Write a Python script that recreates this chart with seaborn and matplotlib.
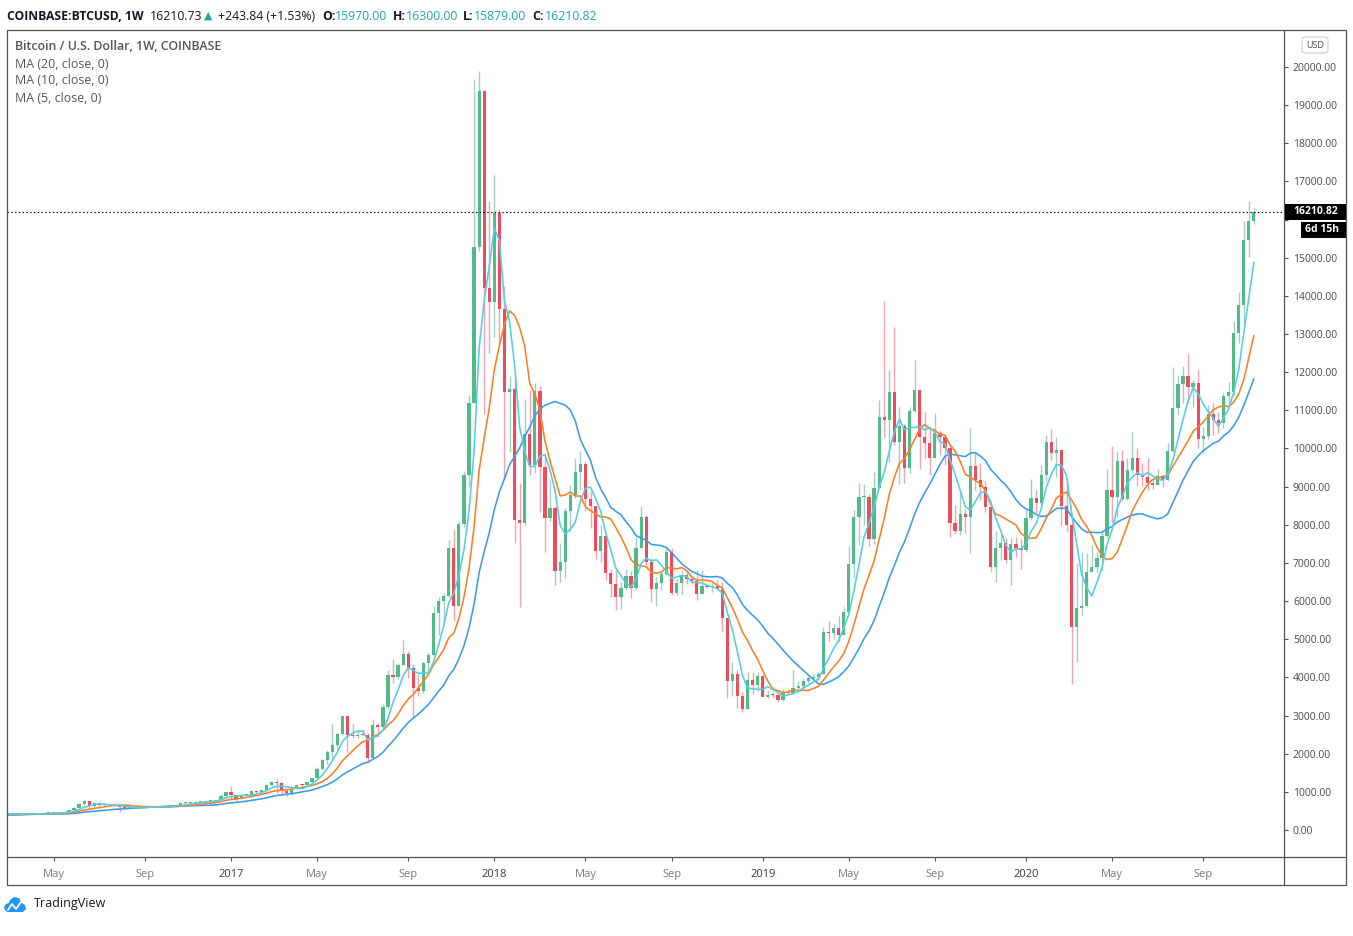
import numpy as np
import pandas as pd
import matplotlib
matplotlib.use("Agg")
import matplotlib.pyplot as plt
import seaborn as sns
from matplotlib.patches import Rectangle, FancyBboxPatch, Polygon
from matplotlib.lines import Line2D

# ---------------- data (weekly COINBASE BTCUSD, weeks starting Monday) ----------------
start_date = "2016-02-29"
first_open = 437
# closes of the 19 weeks before the first visible bar (needed for the moving averages)
warmup_closes = [283, 325, 380, 330, 325, 360, 390, 435, 455, 420, 430, 450, 380, 400, 375, 375, 400, 435, 435]

close_2016 = [412, 412, 410, 416, 417, 420, 428, 455, 448, 458, 455, 442, 527, 575, 680, 765, 625, 700, 650, 665,
              655, 625, 590, 570, 580, 575, 608, 608, 610, 605, 612, 617, 640, 655, 700, 705, 705, 730, 735, 765,
              770, 790, 890, 1000]
high_2016 = [440, 420, 418, 420, 422, 425, 432, 462, 468, 465, 462, 456, 530, 590, 700, 790, 770, 710, 700, 680,
             675, 660, 630, 600, 585, 585, 612, 625, 612, 612, 615, 620, 645, 660, 710, 745, 720, 755, 750, 775,
             780, 795, 935, 1000]
low_2016 = [405, 405, 405, 408, 410, 415, 418, 426, 440, 440, 448, 436, 440, 520, 570, 660, 550, 610, 610, 640,
            650, 620, 480, 565, 565, 570, 568, 600, 600, 590, 600, 605, 613, 630, 650, 690, 700, 700, 720, 730,
            755, 765, 790, 880]

close_2017 = [905, 822, 920, 915, 1015, 1000, 1050, 1175, 1270, 1230, 1010, 970, 1080, 1180, 1170, 1250, 1350,
              1590, 1830, 2050, 2220, 2520, 2980, 2500, 2470, 2500, 2490, 1900, 2750, 2710, 3215, 4060, 4020, 4330,
              4610, 4240, 3710, 3650, 4370, 4590, 5680, 6000, 6130, 7390, 5860, 8020, 9300, 11200, 15280, 19370,
              14210, 13840]
high_2017 = [1150, 910, 925, 930, 1030, 1060, 1060, 1200, 1290, 1330, 1250, 1060, 1100, 1200, 1215, 1260, 1370,
             1640, 1850, 2100, 2790, 2560, 2990, 3000, 2770, 2600, 2650, 2550, 2900, 2800, 3300, 4200, 4480, 4380,
             4980, 4700, 4350, 4100, 4400, 4630, 5860, 6100, 6200, 7600, 7880, 8100, 9400, 11400, 19690, 19895,
             19400, 16490]
low_2017 = [810, 750, 820, 880, 905, 930, 990, 1045, 1165, 980, 940, 890, 930, 1070, 1120, 1170, 1245, 1340,
            1580, 1720, 1850, 2100, 2500, 2050, 2400, 2400, 2480, 1760, 1880, 2450, 2660, 3180, 3850, 3950, 4320,
            3990, 2950, 3500, 3600, 4150, 4580, 5100, 5400, 6100, 5490, 5860, 7950, 9000, 11200, 15180, 10900,
            12500]

close_2018 = [16170, 13660, 11480, 11550, 8130, 8040, 10380, 9570, 11500, 9520, 8180, 8440, 6790, 7025, 8360,
              8780, 9380, 9590, 8680, 8490, 7310, 7710, 6740, 6450, 6110, 6345, 6660, 6345, 7390, 8205, 7025, 6320,
              6475, 6710, 7290, 6210, 6475, 6680, 6580, 6530, 6185, 6395, 6370, 6390, 6320, 5560, 3910, 4090, 3510,
              3170, 3930, 3800, 4040]
high_2018 = [17170, 16280, 14260, 11900, 11900, 9100, 11300, 11530, 11720, 11640, 9880, 9170, 8500, 7520, 8430,
             9040, 9750, 9930, 9680, 8890, 8500, 7990, 7750, 6850, 6815, 6500, 6840, 6800, 7680, 8490, 8250, 7130,
             6630, 6800, 7365, 7390, 6580, 6800, 6800, 6650, 6815, 6815, 6450, 6500, 6560, 6500, 5560, 4400, 4200,
             3620, 4140, 4140, 4140]
low_2018 = [12920, 12750, 9200, 9910, 7520, 5845, 8000, 9300, 9350, 8340, 7290, 8100, 6420, 6500, 6600, 7850,
            8700, 8900, 8350, 7920, 7100, 7025, 6550, 6110, 5770, 5800, 6290, 6080, 6300, 7380, 6950, 5975, 5870,
            6300, 6690, 6150, 6160, 6180, 6450, 6450, 6030, 6180, 6340, 6250, 6300, 5190, 3460, 3500, 3200, 3090,
            3170, 3560, 3640]

close_2019 = [3490, 3540, 3530, 3410, 3620, 3600, 3720, 3780, 3900, 3980, 4010, 4100, 5190, 5160, 5300, 5110,
              5710, 6970, 8205, 8730, 8730, 7630, 8960, 10830, 10750, 11480, 10170, 10590, 9490, 10980, 11530,
              10300, 10140, 9750, 10410, 10300, 10010, 8050, 7840, 8280, 8205, 9540, 9175, 8990, 8470, 6890, 7390,
              7520, 7080, 7500, 7390, 7340]
high_2019 = [4100, 3680, 3620, 3580, 3700, 3700, 4200, 3900, 3950, 4030, 4090, 4150, 5330, 5480, 5400, 5610,
             5850, 7450, 8390, 9100, 9080, 8800, 9380, 11270, 13870, 12060, 13190, 11090, 10650, 11100, 12320,
             11530, 10960, 10600, 10930, 10450, 10350, 10100, 8520, 8830, 8410, 10540, 9880, 9620, 9150, 8500, 7850,
             7730, 7650, 7650, 7680, 7630]
low_2019 = [3480, 3460, 3470, 3360, 3370, 3570, 3600, 3650, 3700, 3840, 3950, 3930, 4090, 4950, 5000, 4935, 5100,
            5700, 6600, 7470, 8000, 7450, 7500, 8950, 10300, 9650, 10090, 9070, 9100, 9360, 10950, 9460, 9750, 9300,
            9740, 9830, 9570, 7680, 7770, 7730, 7790, 7260, 8910, 8650, 8340, 6750, 6510, 7080, 6990, 6420, 7165,
            6840]

close_2020 = [8180, 8700, 8570, 9300, 10170, 9880, 9960, 8490, 7990, 5320, 5820, 5870, 6760, 6890, 7130, 7710,
              8910, 8730, 9670, 8680, 9440, 9750, 9300, 9250, 9090, 9050, 9280, 9175, 9930, 11060, 11690, 11900,
              11610, 11720, 10250, 10330, 10900, 10750, 10660, 11380, 11480, 13030, 13760, 15470, 15970, 16210.82]
high_2020 = [8390, 9200, 8910, 9570, 10350, 10510, 10310, 9970, 9150, 8180, 7000, 7290, 7260, 7470, 7300, 7780,
             9460, 10070, 9940, 9960, 9740, 10430, 10005, 9610, 9750, 9200, 9470, 9300, 10150, 12140, 11930, 12150,
             12480, 11800, 12080, 10570, 11140, 11180, 10960, 11460, 11750, 13340, 14100, 15960, 16490, 16300]
low_2020 = [7300, 8130, 8300, 8500, 9150, 9700, 9260, 7960, 7850, 3830, 4400, 5640, 5850, 6750, 6740, 6800, 7650,
            8070, 8210, 8650, 8650, 9350, 9020, 9020, 8900, 8950, 9050, 8980, 9150, 9920, 10880, 11180, 11200, 11100,
            10010, 9880, 10260, 10350, 10400, 10530, 11200, 11400, 12770, 13200, 15030, 15879]

ma_periods = [20, 10, 5]
ma_colors = {20: "#3a9bee", 10: "#fb7f23", 5: "#52cfe0"}
price_ticks = list(range(0, 20001, 1000))
last_price = 16210.82
countdown = "6d 15h"

# header values
hdr_last, hdr_chg, hdr_pct = "16210.73", "+243.84", "(+1.53%)"
hdr_o, hdr_h, hdr_l, hdr_c = "15970.00", "16300.00", "15879.00", "16210.82"

# ---------------- assemble ----------------
closes = np.array(close_2016 + close_2017 + close_2018 + close_2019 + close_2020, dtype=float)
highs = np.array(high_2016 + high_2017 + high_2018 + high_2019 + high_2020, dtype=float)
lows = np.array(low_2016 + low_2017 + low_2018 + low_2019 + low_2020, dtype=float)
opens = np.r_[first_open, closes[:-1]]   # a 24/7 market: each weekly bar opens at the prior close
n = len(closes)
idx = np.arange(n)
dates = pd.date_range(start_date, periods=n, freq="7D")

all_close = pd.Series(np.r_[warmup_closes, closes])
df = pd.DataFrame({"idx": idx})
for p in ma_periods:
    df[f"ma{p}"] = all_close.rolling(p).mean().to_numpy()[len(warmup_closes):]

# ---------------- figure ----------------
sns.set_theme(style="white")
plt.rcParams["font.family"] = ["Open Sans", "DejaVu Sans"]

W, H = 1353, 936
fig = plt.figure(figsize=(W / 100, H / 100), dpi=100)
fig.patch.set_facecolor("white")


def fx(px):
    return px / W


def fy(py):
    return 1 - py / H


L, R, T, B = 7, 1284, 30, 857
ax = fig.add_axes([fx(L), fy(B), (R - L) / W, (B - T) / H])
ax.set_facecolor("white")

# candles
up = closes >= opens
wick_col = np.where(up, "#a3cdc6", "#f4a3ac")
body_col = np.where(up, "#53b987", "#eb4d5c")
ax.vlines(idx, lows, highs, colors=wick_col, linewidth=1.0, zorder=2)
body_bottom = np.minimum(opens, closes)
body_h = np.maximum(np.abs(closes - opens), 28)
ax.bar(idx, body_h, bottom=body_bottom, width=0.64, color=body_col, linewidth=0, zorder=3)

# moving averages
for p in ma_periods:
    sns.lineplot(data=df, x="idx", y=f"ma{p}", ax=ax, color=ma_colors[p], linewidth=1.15,
                 legend=False, zorder=4)

ax.axhline(last_price, color="black", linestyle=(0, (1.2, 2.0)), linewidth=0.85, zorder=5)

ax.set_xlim(-0.24, 251.95)
ax.set_ylim(-708, 20970)
ax.set_xlabel("")
ax.set_ylabel("")
for s in ax.spines.values():
    s.set_visible(False)

# price axis on the right (the level hidden under the last-price badge is left unlabeled)
ax.set_yticks(price_ticks)
ax.set_yticklabels(["" if abs(v - last_price) < 500 else f"{v:.2f}" for v in price_ticks])
ax.tick_params(axis="y", which="both", left=False, right=True, labelleft=False, labelright=True,
               direction="out", length=3, width=0.8, color="#50535e", pad=3.4, labelsize=7.5,
               labelcolor="#4a4a4a")

# time axis
tick_pos, tick_lab = [], []
for yr in range(2016, 2021):
    for m in (1, 5, 9):
        sel = np.where((dates.year == yr) & (dates.month == m))[0]
        if len(sel):
            tick_pos.append(sel[0])
            tick_lab.append(str(yr) if m == 1 else dates[sel[0]].strftime("%b"))
ax.set_xticks(tick_pos)
ax.set_xticklabels(tick_lab)
ax.tick_params(axis="x", which="both", bottom=True, top=False, direction="out", length=3, width=0.8,
               color="#50535e", pad=5.8, labelsize=8)
for t in ax.get_xticklabels():
    if t.get_text().isdigit():
        t.set_color("#363a45")
    else:
        t.set_color("#787b86")
ax.grid(False)

# frame lines
frame_col = "#50535e"


def fline(x0, y0, x1, y1, **kw):
    fig.add_artist(Line2D([fx(x0), fx(x1)], [fy(y0), fy(y1)], transform=fig.transFigure,
                          color=kw.get("color", frame_col), linewidth=kw.get("lw", 0.9), zorder=10))


fline(7, 30, 1346, 30)
fline(7, 857, 1346, 857)
fline(7, 885, 1346, 885)
fline(7, 30, 7, 885)
fline(1346, 30, 1346, 885)
fline(1284, 30, 1284, 885)

# header line
teal = "#26a69a"
hy = fy(16)
fs = 8.8
fig.text(fx(7), hy, "COINBASE:BTCUSD, 1W", fontsize=8.7, fontweight="bold", color="#131722", va="center")
fig.text(fx(150), hy, hdr_last, fontsize=fs, color="#131722", va="center")
fig.text(fx(204), hy, "▲", fontsize=fs - 1, color=teal, va="center", family=["DejaVu Sans"])
fig.text(fx(218), hy, f"{hdr_chg} {hdr_pct}", fontsize=fs, color="#131722", va="center")
for lab, val, x0, x1 in [("O:", hdr_o, 322, 335), ("H:", hdr_h, 393, 406),
                         ("L:", hdr_l, 463, 474), ("C:", hdr_c, 532, 545)]:
    fig.text(fx(x0), hy, lab, fontsize=fs, fontweight="bold", color="#131722", va="center")
    fig.text(fx(x1), hy, val, fontsize=fs, color=teal, va="center")

# legend block inside the chart
fig.text(fx(15), fy(47), "Bitcoin / U.S. Dollar, 1W, COINBASE", fontsize=8.9, fontweight="semibold",
         color="#555555", va="center")
for i, p in enumerate(ma_periods):
    fig.text(fx(15), fy(64 + 17 * i), f"MA ({p}, close, 0)", fontsize=8.9, color="#555555", va="center")

# USD badge
fig.add_artist(FancyBboxPatch((fx(1302), fy(53)), fx(26), 16 / H,
                              boxstyle="round,pad=0,rounding_size=0.003", transform=fig.transFigure,
                              facecolor="white", edgecolor="#c9ccd4", linewidth=0.8, zorder=11))
fig.text(fx(1315), fy(45), "USD", fontsize=6.5, color="#4a4a4a", ha="center", va="center", zorder=12)

# last price label + countdown
fig.add_artist(Rectangle((fx(1285), fy(220)), fx(61), 16 / H, transform=fig.transFigure,
                         facecolor="black", edgecolor="none", zorder=11))
fig.text(fx(1293), fy(212), f"{last_price:.2f}", fontsize=7.5, fontweight="bold", color="white",
         va="center", zorder=12)
fig.add_artist(Rectangle((fx(1301), fy(238)), fx(45), 16 / H, transform=fig.transFigure,
                         facecolor="black", edgecolor="none", zorder=11))
fig.text(fx(1305), fy(230), countdown, fontsize=7.5, fontweight="bold", color="white",
         va="center", zorder=12)

# TradingView logo
cloud = [(7, 912), (23, 912), (26, 909), (25, 905), (22, 903), (19, 898), (14, 897), (10, 900),
         (9, 903), (6, 904), (4, 907), (5, 910)]
fig.add_artist(Polygon([(fx(a), fy(b)) for a, b in cloud], closed=True, transform=fig.transFigure,
                       facecolor="#2196f3", edgecolor="none", zorder=11))
zig = [(8, 910), (12, 904), (16, 909), (21, 902)]
fig.add_artist(Line2D([fx(a) for a, b in zig], [fy(b) for a, b in zig], transform=fig.transFigure,
                      color="white", linewidth=1.3, zorder=12))
fig.text(fx(34), fy(904), "TradingView", fontsize=9, color="#131722", va="center")

fig.savefig("out.png", dpi=100, facecolor="white")
